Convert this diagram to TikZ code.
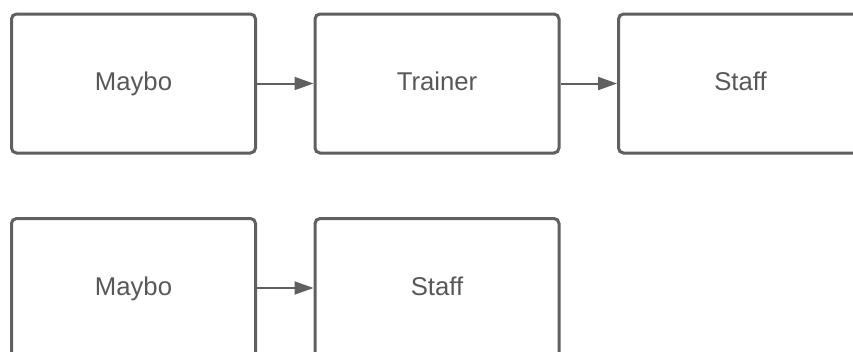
\documentclass[tikz,border=0pt]{standalone}
\usepackage{fontspec}
\setmainfont{Liberation Sans}
\usetikzlibrary{arrows.meta, positioning}
\definecolor{boxgray}{RGB}{96,96,96}
\definecolor{textgray}{RGB}{88,88,88}

\begin{document}
\begin{tikzpicture}[x=1pt, y=-1pt,
    rolebox/.style={draw=boxgray, line width=3pt, rounded corners=5pt, fill=white,
        minimum width=244pt, minimum height=139pt, inner sep=0pt,
        text height=19pt, text depth=5pt,
        text=textgray, font=\fontsize{25.7}{30}\selectfont},
    flow/.style={-{Triangle[length=19pt, width=13pt]}, draw=boxgray, fill=boxgray, line width=2pt}]
    \path[use as bounding box, clip] (0,0) rectangle (853,351);

    % Top chain
    \node[rolebox] (maybo1) at (133.5,83.5) {Maybo};
    \node[rolebox] (trainer) at (437,83.5) {Trainer};
    \node[rolebox] (staff1) at (740.5,83.5) {Staff};

    \draw[flow] (maybo1) -- (trainer);
    \draw[flow] (trainer) -- (staff1);

    % Bottom chain
    \node[rolebox] (maybo2) at (133.5,288) {Maybo};
    \node[rolebox] (staff2) at (437,288) {Staff};

    \draw[flow] (maybo2) -- (staff2);
\end{tikzpicture}
\end{document}
